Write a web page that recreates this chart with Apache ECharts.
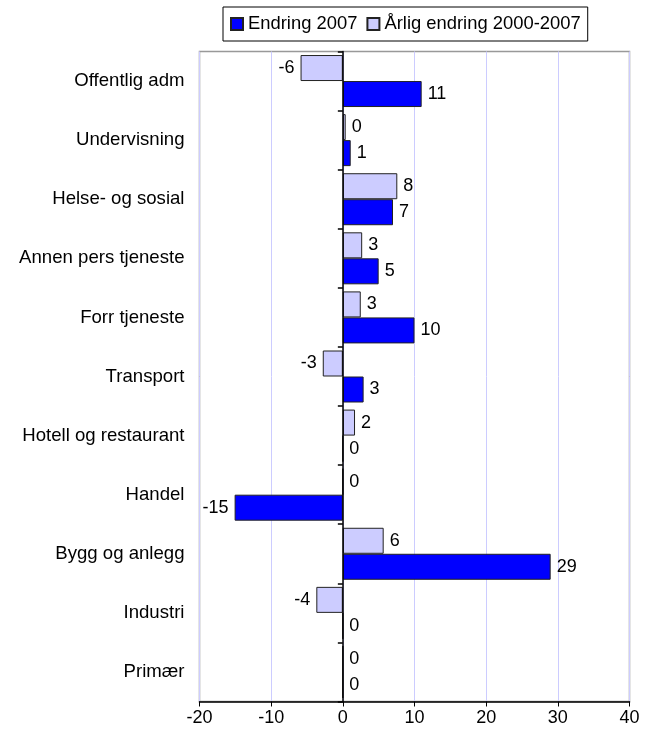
<!DOCTYPE html>
<html>
<head>
<meta charset="utf-8">
<script src="https://cdn.jsdelivr.net/npm/echarts@6/dist/echarts.min.js"></script>
<style>html,body{margin:0;padding:0;background:#fff}#c{width:650px;height:733px}</style>
</head>
<body>
<div id="c"></div>
<script>
const categories = ["Offentlig adm","Undervisning","Helse- og sosial","Annen pers tjeneste","Forr tjeneste","Transport","Hotell og restaurant","Handel","Bygg og anlegg","Industri","Primær"];
const endring2007 = [11.0, 1.1, 7.0, 5.0, 10.0, 2.9, 0, -15.1, 29.0, 0, 0];
const arligEndring = [-5.9, 0.4, 7.6, 2.7, 2.5, -2.8, 1.7, 0, 5.7, -3.7, 0];
const xTicks = [-20, -10, 0, 10, 20, 30, 40];

const FONT = 'Liberation Sans, Arial, sans-serif';
function toData(arr){
  return arr.map(v => ({value: v, label: {position: v < 0 ? 'left' : 'right'}}));
}
const labelCfg = {
  show: true, color: '#000', fontFamily: FONT, fontSize: 18, distance: 6,
  formatter: p => String(Math.round(p.value) === 0 ? 0 : Math.round(p.value))
};
const chart = echarts.init(document.getElementById('c'), null, {renderer: 'canvas'});
chart.setOption({
  animation: false,
  backgroundColor: '#fff',
  textStyle: {fontFamily: FONT},
  legend: {
    data: ['Endring 2007', 'Årlig endring 2000-2007'],
    left: 223, top: 7,
    padding: [8, 7, 8, 7],
    itemWidth: 12, itemHeight: 12, itemGap: 9,
    icon: 'rect',
    borderColor: '#000', borderWidth: 1,
    textStyle: {fontFamily: FONT, fontSize: 18.4, color: '#000'}
  },
  grid: {
    left: 199.5, right: 20.5, top: 51.5, bottom: 31.5,
    show: true, borderColor: '#999', borderWidth: 1.5, backgroundColor: '#fff'
  },
  xAxis: {
    type: 'value', min: xTicks[0], max: xTicks[xTicks.length - 1], interval: 10,
    axisLine: {show: true, onZero: false, lineStyle: {color: '#000', width: 1.5}},
    axisTick: {show: true, length: 5, lineStyle: {color: '#000'}},
    axisLabel: {color: '#000', fontSize: 18, fontFamily: FONT, margin: 8},
    splitLine: {show: true, lineStyle: {color: '#ccccff', width: 1}}
  },
  yAxis: [{
    type: 'category', data: categories, inverse: true,
    axisLine: {show: false, onZero: false},
    axisTick: {show: false},
    axisLabel: {color: '#000', fontSize: 18.6, fontFamily: FONT, margin: 15},
    splitLine: {show: false}
  }, {
    type: 'category', data: categories, inverse: true,
    position: 'left',
    axisLine: {show: true, onZero: true, onZeroAxisIndex: 0, lineStyle: {color: '#000', width: 1.5}},
    axisTick: {show: true, length: 5, inside: false, lineStyle: {color: '#000', width: 1.5}},
    axisLabel: {show: false},
    splitLine: {show: false},
    z: 5
  }],
  series: [{
    name: 'Årlig endring 2000-2007', type: 'bar', yAxisIndex: 0,
    data: toData(arligEndring),
    barGap: '0%', barCategoryGap: '12%',
    itemStyle: {color: '#ccccff', borderColor: '#222', borderWidth: 1},
    label: labelCfg
  }, {
    name: 'Endring 2007', type: 'bar', yAxisIndex: 0,
    data: toData(endring2007),
    barGap: '0%', barCategoryGap: '12%',
    itemStyle: {color: '#0000ff', borderColor: '#222', borderWidth: 1},
    label: labelCfg
  }]
});
</script>
</body>
</html>
